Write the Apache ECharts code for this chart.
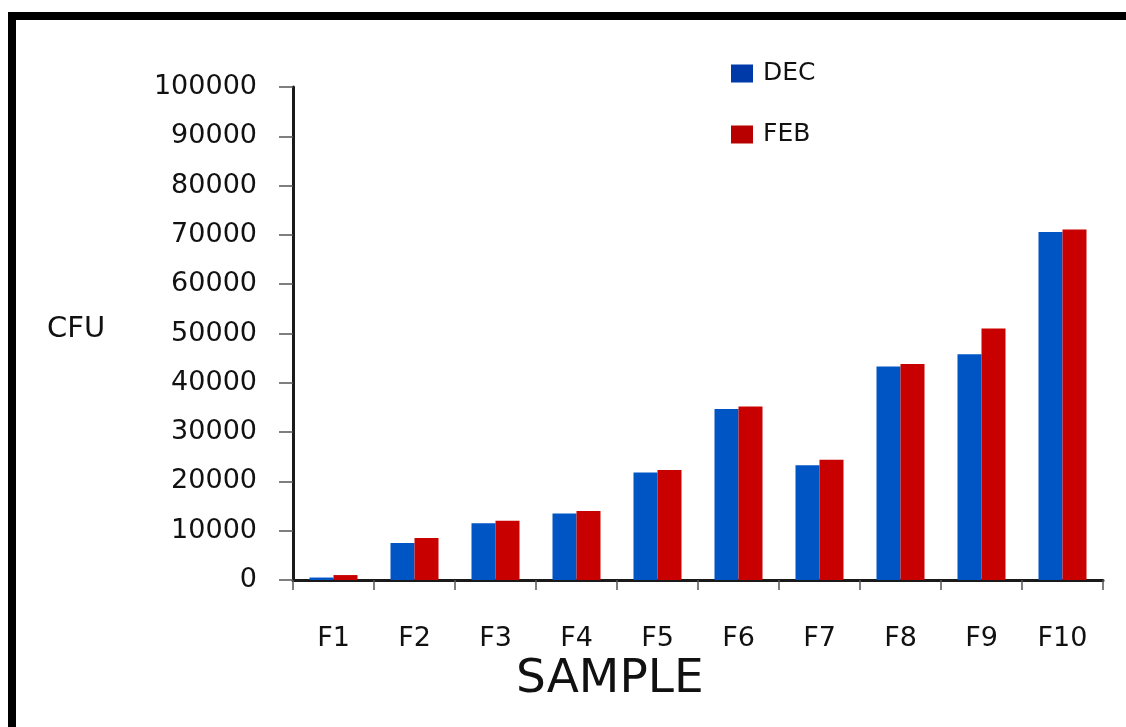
<!DOCTYPE html>
<html>
<head>
<meta charset="utf-8">
<script src="https://cdn.jsdelivr.net/npm/echarts@6/dist/echarts.min.js"></script>
<style>
html,body{margin:0;padding:0;background:#fff;}
#chart{width:1126px;height:727px;}
</style>
</head>
<body>
<div id="chart"></div>
<script>
const categories = ['F1','F2','F3','F4','F5','F6','F7','F8','F9','F10'];
const decValues = [500, 7500, 11500, 13500, 21800, 34700, 23300, 43300, 45800, 70600];
const febValues = [1000, 8500, 12000, 14000, 22300, 35200, 24400, 43800, 51000, 71100];
const seriesNames = ['DEC', 'FEB'];
const yMin = 0, yMax = 100000, yInterval = 10000;

const chart = echarts.init(document.getElementById('chart'), null, {renderer:'canvas'});
const font = 'DejaVu Sans';
chart.setOption({
  animation:false,
  backgroundColor:'#fff',
  graphic:[
    {type:'rect', shape:{x:8,y:12,width:1118,height:8}, style:{fill:'#000'}},
    {type:'rect', shape:{x:8,y:12,width:8,height:715}, style:{fill:'#000'}},
    {type:'text', x:47, y:329, style:{text:'CFU', font:'29px "DejaVu Sans"', fill:'#111', verticalAlign:'middle'}},
    {type:'text', x:516, y:680, style:{text:'SAMPLE', font:'47px "DejaVu Sans"', fill:'#111', verticalAlign:'middle'}}
  ],
  legend:{
    orient:'vertical', left:726, top:56, itemWidth:22, itemHeight:18, itemGap:36,
    textStyle:{fontFamily:font, fontSize:25, color:'#111', padding:[0,0,0,5]},
    data:[
      {name:seriesNames[0], icon:'rect', itemStyle:{color:'#0039a8'}},
      {name:seriesNames[1], icon:'rect', itemStyle:{color:'#b80000'}}
    ]
  },
  grid:{left:293, top:87, right:23, bottom:147},
  xAxis:{
    type:'category', data:categories,
    axisLine:{lineStyle:{color:'#1a1a1a', width:3}},
    axisTick:{show:true, length:10, lineStyle:{color:'#555', width:1.5}},
    axisLabel:{fontFamily:font, fontSize:27, color:'#111', margin:45}
  },
  yAxis:{
    type:'value', min:yMin, max:yMax, interval:yInterval,
    axisLine:{show:true, lineStyle:{color:'#1a1a1a', width:3}},
    axisTick:{show:true, length:14, lineStyle:{color:'#555', width:1.5}},
    splitLine:{show:false},
    axisLabel:{fontFamily:font, fontSize:27, color:'#111', margin:36, formatter:function(v){return String(v);}}
  },
  series:[
    {name:seriesNames[0], type:'bar', data:decValues, barWidth:24, barGap:'0%', itemStyle:{color:'#0055c4'}},
    {name:seriesNames[1], type:'bar', data:febValues, barWidth:24, barGap:'0%', itemStyle:{color:'#c80000'}}
  ]
});
</script>
</body>
</html>
